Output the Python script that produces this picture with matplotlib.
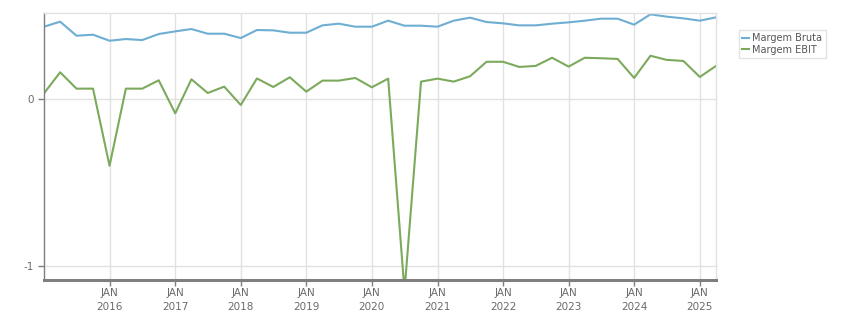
import pandas as pd
import matplotlib
matplotlib.use("Agg")
import matplotlib.pyplot as plt

# quarterly series, 2015 Q1 .. 2025 Q2
quarters = pd.date_range("2015-01-01", periods=42, freq="QS")

margem_bruta = [0.433, 0.463, 0.379, 0.385, 0.349, 0.359, 0.353, 0.389, 0.405, 0.419,
                0.391, 0.391, 0.365, 0.413, 0.411, 0.397, 0.397, 0.441, 0.451, 0.433,
                0.433, 0.469, 0.439, 0.439, 0.433, 0.469, 0.487, 0.461, 0.453, 0.441,
                0.441, 0.451, 0.459, 0.469, 0.481, 0.481, 0.445, 0.507, 0.493, 0.483,
                0.469, 0.489]
margem_ebit = [0.034, 0.160, 0.062, 0.062, -0.400, 0.062, 0.062, 0.112, -0.086, 0.118,
               0.036, 0.074, -0.036, 0.123, 0.072, 0.130, 0.044, 0.110, 0.110, 0.126,
               0.070, 0.122, -1.150, 0.104, 0.122, 0.104, 0.136, 0.223, 0.223, 0.192,
               0.198, 0.247, 0.194, 0.247, 0.244, 0.240, 0.126, 0.259, 0.234, 0.228,
               0.132, 0.198]

year_ticks = pd.date_range("2016-01-01", "2025-01-01", freq="YS")
y_ticks = [0, -1]

fig = plt.figure(figsize=(8.51, 3.13), dpi=100)
ax = fig.add_axes([44 / 851, 1 - 280 / 313, (716 - 44) / 851, (280 - 13) / 313])

ax.plot(quarters, margem_bruta, color="#6eaed3", lw=1.5, label="Margem Bruta")
ax.plot(quarters, margem_ebit, color="#7caa5c", lw=1.5, label="Margem EBIT")

ax.set_xlim(quarters[0], quarters[-1])
ax.set_ylim(-1.084, 0.515)

ax.set_xticks(year_ticks)
ax.set_xticklabels(["JAN\n%d" % d.year for d in year_ticks], linespacing=1.45)
ax.set_yticks(y_ticks)
ax.set_yticklabels(["0", "-1"])

ax.grid(True, color="#e1e1e1", lw=1)
ax.set_axisbelow(True)

for s in ["top", "right"]:
    ax.spines[s].set_color("#e1e1e1")
    ax.spines[s].set_linewidth(1)
ax.spines["left"].set_color("#7f7f7f")
ax.spines["left"].set_linewidth(1)
ax.spines["bottom"].set_color("#7f7f7f")
ax.spines["bottom"].set_linewidth(2.2)

ax.tick_params(axis="x", colors="#7f7f7f", length=4, width=1, labelsize=7.5,
               labelcolor="#6a6a6a", pad=2)
ax.tick_params(axis="y", colors="#7f7f7f", length=4, width=1, labelsize=7.5,
               labelcolor="#6a6a6a")

fig.legend(loc="upper left", bbox_to_anchor=(739 / 851, 1 - 30 / 313),
           fontsize=7, frameon=True, fancybox=False, edgecolor="#dddddd",
           handlelength=0.7, handletextpad=0.3, borderpad=0.35, labelspacing=0.15,
           borderaxespad=0, labelcolor="#555555")

fig.savefig("out.png", dpi=100)
